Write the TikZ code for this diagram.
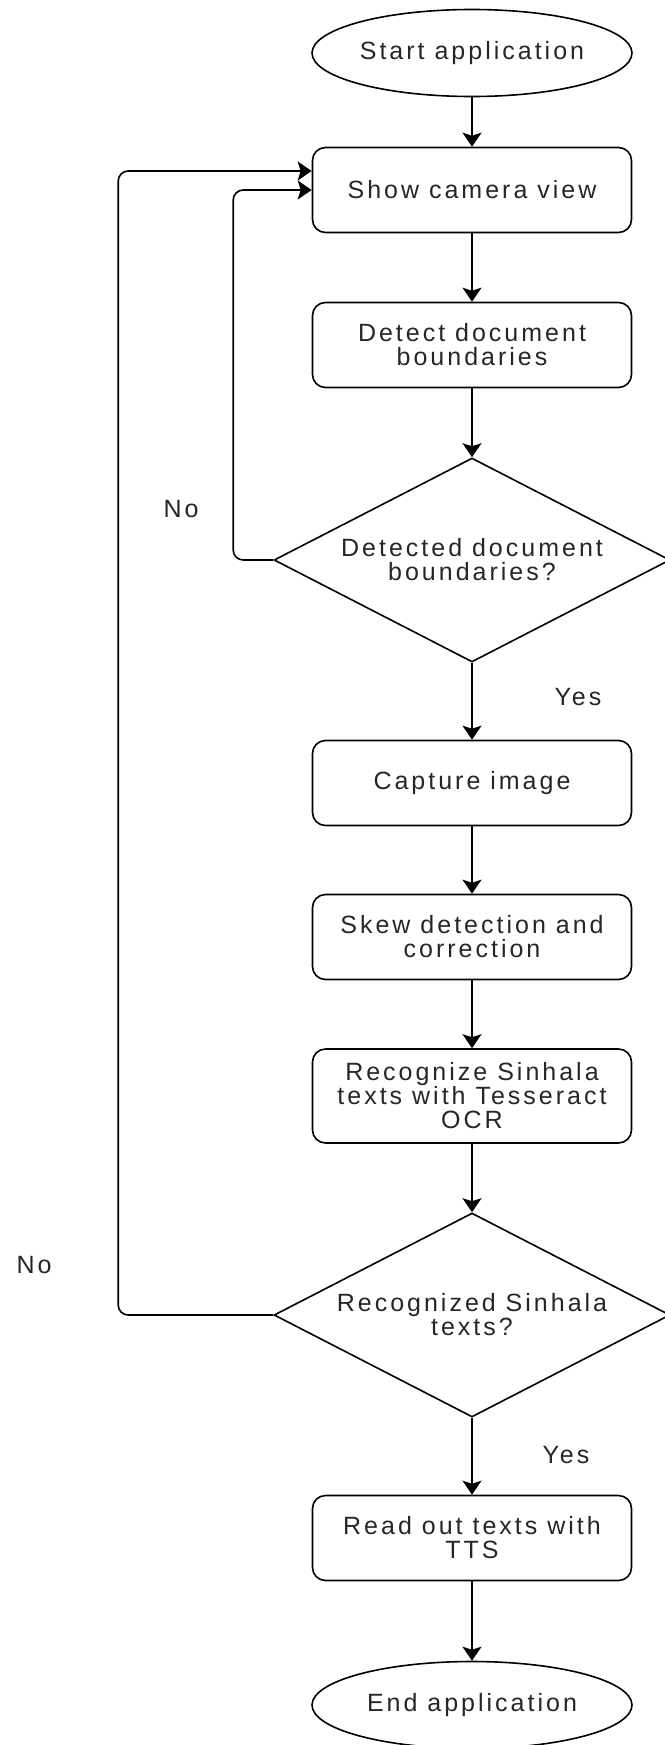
\documentclass[tikz,border=0pt]{standalone}
\usepackage{fontspec}
\setmainfont{Liberation Sans}[LetterSpace=12]
\usetikzlibrary{shapes.geometric,arrows.meta}

\begin{document}
\begin{tikzpicture}[x=1pt, y=-1pt, line width=1.6pt,
	every node/.style={font=\fontsize{25}{24}\selectfont, text=black!85},
	startstop/.style={draw, ellipse, minimum width=320pt, minimum height=87pt, inner sep=0pt},
	process/.style={draw, rectangle, rounded corners=13pt, minimum width=319pt, minimum height=85pt, align=center, inner sep=0pt},
	decision/.style={draw, diamond, aspect=2, minimum width=396pt, minimum height=204pt, align=center, inner sep=0pt},
	flow/.style={-{Stealth[length=14pt, width=19pt, inset=3pt]}}]
	\useasboundingbox (0,0) rectangle (664,1745);
	\node[startstop] (start) at (472,53) {Start application};
	\node[process] (cam) at (472,190) {Show camera view};
	\node[process] (detect) at (472,345) {Detect document\\boundaries};
	\node[decision] (found) at (472,560) {Detected document\\boundaries?};
	\node[process] (capture) at (472,783) {Capture image};
	\node[process] (skew) at (472,937) {Skew detection and\\correction};
	\node[process, minimum height=94pt] (ocr) at (472,1096) {Recognize Sinhala\\texts with Tesseract\\OCR};
	\node[decision] (recog) at (472,1315) {Recognized Sinhala\\texts?};
	\node[process] (tts) at (472,1538) {Read out texts with\\TTS};
	\node[startstop] (stop) at (472,1705) {End application};
	\node (no1) at (181,509) {No};
	\node (yes1) at (578,697) {Yes};
	\node (no2) at (34,1265) {No};
	\node (yes2) at (566,1455) {Yes};
	\draw[flow] (start) -- (cam);
	\draw[flow] (cam) -- (detect);
	\draw[flow] (detect) -- (found);
	\draw[flow] (found) -- (capture);
	\draw[flow] (capture) -- (skew);
	\draw[flow] (skew) -- (ocr);
	\draw[flow] (ocr) -- (recog);
	\draw[flow] (recog) -- (tts);
	\draw[flow] (tts) -- (stop);
	\draw[flow, rounded corners=10pt] (found.west) -- ++(-40,0) |- (cam.west);
	\draw[flow, rounded corners=10pt] (recog.west) -- ++(-155,0) |- ([yshift=19pt]cam.west);
\end{tikzpicture}
\end{document}
